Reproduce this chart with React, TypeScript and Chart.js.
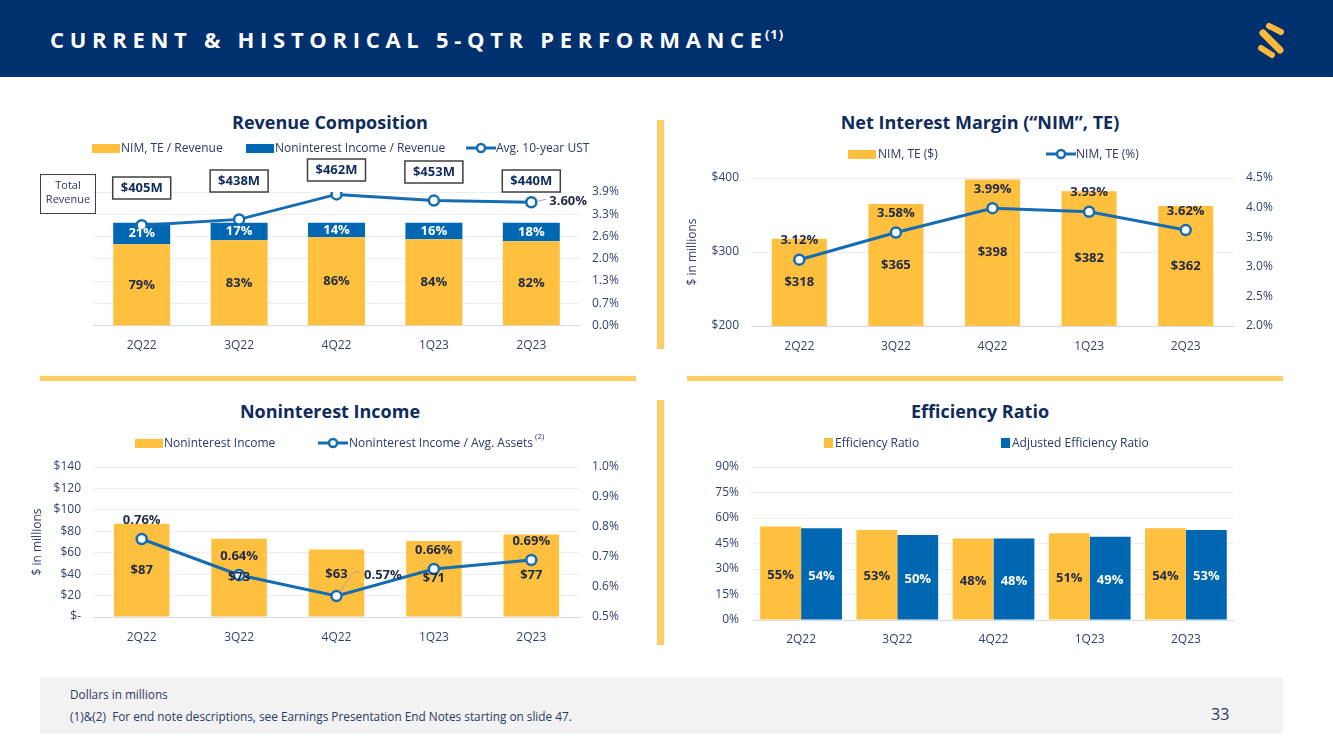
import React, { useEffect, useRef } from 'react';
import { Chart, registerables } from 'chart.js';

Chart.register(...registerables);

// ---- data ----
const quarters = ['2Q22', '3Q22', '4Q22', '1Q23', '2Q23'];

const nimShareOfRevenue = [79, 83, 86, 84, 82];
const noninterestShareOfRevenue = [21, 17, 14, 16, 18];
const avgTenYearUst = [2.93, 3.1, 3.83, 3.65, 3.6];
const totalRevenue = [405, 438, 462, 453, 440];
const ustTicks = [0, 0.65, 1.3, 1.95, 2.6, 3.25, 3.9];

const nimDollars = [318, 365, 398, 382, 362];
const nimPercent = [3.12, 3.58, 3.99, 3.93, 3.62];

const noninterestIncome = [87, 73, 63, 71, 77];
const noninterestToAssets = [0.76, 0.64, 0.57, 0.66, 0.69];

const efficiencyRatio = [55, 53, 48, 51, 54];
const adjustedEfficiencyRatio = [54, 50, 48, 49, 53];

// ---- styling ----
const FONT = "'Open Sans', 'Noto Sans', sans-serif";
const GOLD = '#FFBF3F';
const BLUE = '#0068B3';
const LINE_BLUE = '#146CB2';
const NAVY = '#0E2B5C';
const TICK = '#33436B';
const LEGEND_TEXT = '#2A3963';
const LABEL_DARK = '#1F2A44';
const GRID = '#EAEDF2';
const AXIS_LINE = '#D3DDEA';
const DIVIDER = '#FFCC66';

// vertical placement of the total revenue call-outs (canvas px)
const revenueBoxTop = [27, 20, 9, 11, 20];

Chart.defaults.font.family = FONT;

const tickFont = { family: FONT, size: 12 };
const fixWidth = (w: number) => (scale: any) => {
  scale.width = w;
};
const fixHeight = (h: number) => (scale: any) => {
  scale.height = h;
};

// Draws value labels for datasets that carry a `valueLabel` description
const valueLabels = {
  id: 'valueLabels',
  afterDatasetsDraw(chart: any) {
    const { ctx, chartArea } = chart;
    chart.data.datasets.forEach((ds: any, di: number) => {
      const cfg = ds.valueLabel;
      if (!cfg) return;
      const meta = chart.getDatasetMeta(di);
      meta.data.forEach((el: any, i: number) => {
        if (cfg.only && !cfg.only.includes(i)) return;
        const p = el.getProps(['x', 'y', 'base'], true);
        const x = p.x;
        let y = p.y;
        if (cfg.position === 'center') {
          const base = Math.min(p.base, chartArea.bottom);
          y = (p.y + base) / 2;
        }
        const c = (cfg.custom && cfg.custom[i]) || {};
        const dx = c.dx ?? cfg.dx ?? 0;
        const dy = c.dy ?? cfg.dy ?? 0;
        ctx.save();
        if (c.leader) {
          ctx.beginPath();
          ctx.strokeStyle = '#A6A6A6';
          ctx.lineWidth = 1;
          c.leader.forEach((pt: number[], k: number) => {
            if (k === 0) ctx.moveTo(x + pt[0], y + pt[1]);
            else ctx.lineTo(x + pt[0], y + pt[1]);
          });
          ctx.stroke();
        }
        ctx.font = `bold 13px ${FONT}`;
        ctx.fillStyle = cfg.color;
        ctx.textAlign = c.align || 'center';
        ctx.textBaseline = 'middle';
        ctx.fillText(cfg.format(ds.data[i]), x + dx, y + dy);
        ctx.restore();
      });
    });
  },
};

// Boxed total revenue figures above each quarter
const totalBoxes = {
  id: 'totalBoxes',
  afterDraw(chart: any, _args: any, opts: any) {
    const { ctx } = chart;
    const xScale = chart.scales.x;
    (opts.values || []).forEach((v: number, i: number) => {
      const cx = xScale.getPixelForValue(i);
      const top = opts.tops[i];
      const w = 58;
      const h = 22;
      ctx.save();
      ctx.fillStyle = '#FFFFFF';
      ctx.fillRect(cx - w / 2, top, w, h);
      ctx.strokeStyle = '#404040';
      ctx.lineWidth = 1.5;
      ctx.strokeRect(cx - w / 2, top, w, h);
      ctx.font = `bold 13px ${FONT}`;
      ctx.fillStyle = NAVY;
      ctx.textAlign = 'center';
      ctx.textBaseline = 'middle';
      ctx.fillText(`$${v}M`, cx, top + h / 2 + 0.5);
      ctx.restore();
    });
  },
};

const baseOptions = {
  responsive: false,
  maintainAspectRatio: false,
  animation: false,
  events: [],
};

const lineStyle = {
  type: 'line',
  borderColor: LINE_BLUE,
  borderWidth: 3,
  pointRadius: 5,
  pointBorderWidth: 2.5,
  pointBackgroundColor: '#FFFFFF',
  pointBorderColor: LINE_BLUE,
  order: 0,
};

const xAxis = (height: number, padding: number) => ({
  grid: { display: false, drawTicks: false },
  border: { display: true, color: AXIS_LINE, width: 1 },
  ticks: { color: TICK, font: tickFont, padding },
  afterFit: fixHeight(height),
});

const SERIES = {
  nimShare: 'NIM, TE / Revenue',
  nonintShare: 'Noninterest Income / Revenue',
  ust: 'Avg. 10-year UST',
  nimDollars: 'NIM, TE ($)',
  nimPct: 'NIM, TE (%)',
  nonint: 'Noninterest Income',
  nonintAssets: 'Noninterest Income / Avg. Assets',
  eff: 'Efficiency Ratio',
  adjEff: 'Adjusted Efficiency Ratio',
};

function revenueConfig(): any {
  return {
    type: 'bar',
    data: {
      labels: quarters,
      datasets: [
        {
          ...lineStyle,
          label: SERIES.ust,
          data: avgTenYearUst,
          yAxisID: 'y1',
          valueLabel: {
            format: (v: number) => `${v.toFixed(2)}%`,
            color: LABEL_DARK,
            only: [4],
            custom: { 4: { dx: 18, dy: -1, align: 'left', leader: [[6, -1], [15, -3]] } },
          },
        },
        {
          label: SERIES.nimShare,
          data: nimShareOfRevenue,
          backgroundColor: GOLD,
          stack: 'rev',
          order: 1,
          categoryPercentage: 1,
          barPercentage: 0.585,
          valueLabel: { format: (v: number) => `${v}%`, color: LABEL_DARK, position: 'center' },
        },
        {
          label: SERIES.nonintShare,
          data: noninterestShareOfRevenue,
          backgroundColor: BLUE,
          stack: 'rev',
          order: 1,
          categoryPercentage: 1,
          barPercentage: 0.585,
          valueLabel: { format: (v: number) => `${v}%`, color: '#FFFFFF', position: 'center' },
        },
      ],
    },
    options: {
      ...baseOptions,
      layout: { padding: { left: 53, top: 42, right: 0, bottom: 0 } },
      plugins: {
        legend: { display: false },
        tooltip: { enabled: false },
        totalBoxes: { values: totalRevenue, tops: revenueBoxTop },
      },
      scales: {
        x: { ...xAxis(34.5, 13), stacked: true },
        y: { display: false, stacked: true, min: 0, max: 130 },
        y1: {
          position: 'right',
          min: 0,
          max: 3.9,
          afterBuildTicks: (s: any) => {
            s.ticks = ustTicks.map((value) => ({ value }));
          },
          ticks: {
            color: TICK,
            font: tickFont,
            padding: 12,
            callback: (v: number) => `${(Math.round(v * 10) / 10).toFixed(1)}%`,
          },
          grid: { color: GRID, drawTicks: false },
          border: { display: false },
          afterFit: fixWidth(60),
        },
      },
    },
    plugins: [valueLabels, totalBoxes],
  };
}

function nimConfig(): any {
  return {
    type: 'bar',
    data: {
      labels: quarters,
      datasets: [
        {
          ...lineStyle,
          label: SERIES.nimPct,
          data: nimPercent,
          yAxisID: 'y1',
          valueLabel: { format: (v: number) => `${v.toFixed(2)}%`, color: LABEL_DARK, dy: -19 },
        },
        {
          label: SERIES.nimDollars,
          data: nimDollars,
          backgroundColor: GOLD,
          order: 1,
          categoryPercentage: 1,
          barPercentage: 0.57,
          valueLabel: { format: (v: number) => `$${v}`, color: LABEL_DARK, position: 'center' },
        },
      ],
    },
    options: {
      ...baseOptions,
      layout: { padding: { left: 0, top: 28, right: 0, bottom: 0 } },
      plugins: { legend: { display: false }, tooltip: { enabled: false } },
      scales: {
        x: xAxis(34, 13),
        y: {
          min: 200,
          max: 400,
          ticks: { stepSize: 100, color: TICK, font: tickFont, padding: 12, callback: (v: number) => `$${v}` },
          grid: { color: GRID, drawTicks: false },
          border: { display: false },
          title: { display: true, text: '$ in millions', color: TICK, font: tickFont, padding: { top: 5, bottom: 0 } },
          afterFit: fixWidth(71),
        },
        y1: {
          position: 'right',
          min: 2,
          max: 4.5,
          ticks: { stepSize: 0.5, color: TICK, font: tickFont, padding: 12, callback: (v: number) => `${v.toFixed(1)}%` },
          grid: { display: false, drawTicks: false },
          border: { display: false },
          afterFit: fixWidth(46),
        },
      },
    },
    plugins: [valueLabels],
  };
}

function noninterestConfig(): any {
  return {
    type: 'bar',
    data: {
      labels: quarters,
      datasets: [
        {
          ...lineStyle,
          label: SERIES.nonintAssets,
          data: noninterestToAssets,
          yAxisID: 'y1',
          valueLabel: {
            format: (v: number) => `${v.toFixed(2)}%`,
            color: LABEL_DARK,
            dy: -19,
            custom: {
              2: { dx: 27.5, dy: -21, align: 'left', leader: [[3, -4], [17.5, -24], [23.5, -24]] },
            },
          },
        },
        {
          label: SERIES.nonint,
          data: noninterestIncome,
          backgroundColor: GOLD,
          order: 1,
          categoryPercentage: 1,
          barPercentage: 0.57,
          valueLabel: {
            format: (v: number) => `$${v}`,
            color: LABEL_DARK,
            position: 'center',
            custom: { 2: { dy: -9 } },
          },
        },
      ],
    },
    options: {
      ...baseOptions,
      layout: { padding: { left: 0, top: 27, right: 0, bottom: 0 } },
      plugins: { legend: { display: false }, tooltip: { enabled: false } },
      scales: {
        x: xAxis(33, 13),
        y: {
          min: 0,
          max: 140,
          ticks: {
            stepSize: 20,
            color: TICK,
            font: tickFont,
            padding: 12,
            callback: (v: number) => (v === 0 ? '$-' : `$${v}`),
          },
          grid: { color: GRID, drawTicks: false },
          border: { display: false },
          title: { display: true, text: '$ in millions', color: TICK, font: tickFont, padding: { top: 5, bottom: 0 } },
          afterFit: fixWidth(68),
        },
        y1: {
          position: 'right',
          min: 0.5,
          max: 1.0,
          ticks: { stepSize: 0.1, color: TICK, font: tickFont, padding: 12, callback: (v: number) => `${v.toFixed(1)}%` },
          grid: { display: false, drawTicks: false },
          border: { display: false },
          afterFit: fixWidth(60),
        },
      },
    },
    plugins: [valueLabels],
  };
}

function efficiencyConfig(): any {
  return {
    type: 'bar',
    data: {
      labels: quarters,
      datasets: [
        {
          label: SERIES.eff,
          data: efficiencyRatio,
          backgroundColor: GOLD,
          categoryPercentage: 0.85,
          barPercentage: 1,
          valueLabel: { format: (v: number) => `${v}%`, color: LABEL_DARK, position: 'center', dy: 2 },
        },
        {
          label: SERIES.adjEff,
          data: adjustedEfficiencyRatio,
          backgroundColor: BLUE,
          categoryPercentage: 0.85,
          barPercentage: 1,
          valueLabel: { format: (v: number) => `${v}%`, color: '#FFFFFF', position: 'center', dy: 2 },
        },
      ],
    },
    options: {
      ...baseOptions,
      layout: { padding: { left: 0, top: 27, right: 46, bottom: 0 } },
      plugins: { legend: { display: false }, tooltip: { enabled: false } },
      scales: {
        x: xAxis(30, 12),
        y: {
          min: 0,
          max: 90,
          ticks: { stepSize: 15, color: TICK, font: tickFont, padding: 14, callback: (v: number) => `${v}%` },
          grid: { color: GRID, drawTicks: false },
          border: { display: false },
          afterFit: fixWidth(73),
        },
      },
    },
    plugins: [valueLabels],
  };
}

function ChartCanvas({ left, top, width, height, build }: any) {
  const ref = useRef<HTMLCanvasElement | null>(null);
  useEffect(() => {
    if (!ref.current) return;
    const chart = new Chart(ref.current, build());
    return () => chart.destroy();
  }, []);
  return (
    <canvas
      ref={ref}
      width={width}
      height={height}
      style={{ position: 'absolute', left, top, width, height }}
    />
  );
}

type LegendItem = { label: string; kind: 'rect' | 'square' | 'line'; color: string; x: number; textX: number; sup?: string };

function Legend({ y, items }: { y: number; items: LegendItem[] }) {
  return (
    <>
      {items.map((it) => (
        <React.Fragment key={it.label}>
          {it.kind === 'line' ? (
            <svg style={{ position: 'absolute', left: it.x, top: y - 6 }} width={30} height={12}>
              <line x1={0} y1={6} x2={30} y2={6} stroke={it.color} strokeWidth={3} />
              <circle cx={15} cy={6} r={4} fill="#FFFFFF" stroke={it.color} strokeWidth={2.5} />
            </svg>
          ) : (
            <div
              style={{
                position: 'absolute',
                left: it.x,
                top: y - (it.kind === 'rect' ? 4.5 : 5),
                width: it.kind === 'rect' ? 28 : 9,
                height: it.kind === 'rect' ? 9 : 10,
                background: it.color,
              }}
            />
          )}
          <div
            style={{
              position: 'absolute',
              left: it.textX,
              top: y - 9,
              height: 18,
              lineHeight: '18px',
              font: `12px ${FONT}`,
              color: LEGEND_TEXT,
              whiteSpace: 'nowrap',
            }}
          >
            {it.label}
            {it.sup && (
              <span style={{ fontSize: 8, position: 'relative', top: -8, marginLeft: 2 }}>{it.sup}</span>
            )}
          </div>
        </React.Fragment>
      ))}
    </>
  );
}

function PanelTitle({ text, cx, cy }: { text: string; cx: number; cy: number }) {
  return (
    <div
      style={{
        position: 'absolute',
        left: cx - 250,
        width: 500,
        top: cy - 13,
        height: 26,
        lineHeight: '26px',
        textAlign: 'center',
        font: `bold 18px ${FONT}`,
        color: NAVY,
      }}
    >
      {text}
    </div>
  );
}

function Logo() {
  return (
    <svg style={{ position: 'absolute', left: 1252, top: 18 }} width={40} height={44}>
      <g stroke="#FDB93A" strokeLinecap="round" fill="none">
        <line x1={17} y1={8} x2={29} y2={14} strokeWidth={6} />
        <line x1={11} y1={15} x2={28} y2={32} strokeWidth={7} />
        <line x1={9} y1={30} x2={20} y2={37} strokeWidth={6} />
      </g>
    </svg>
  );
}

export default function App() {
  return (
    <div
      style={{
        position: 'absolute',
        left: 0,
        top: 0,
        width: 1333,
        height: 749,
        overflow: 'hidden',
        background: '#FFFFFF',
        fontFamily: FONT,
      }}
    >
      {/* header band */}
      <div style={{ position: 'absolute', left: 0, top: 0, width: 1333, height: 77, background: '#00306E' }} />
      <div
        style={{
          position: 'absolute',
          left: 50,
          top: 24,
          height: 34,
          lineHeight: '34px',
          font: `bold 22px ${FONT}`,
          letterSpacing: '5.7px',
          color: '#FFFFFF',
          whiteSpace: 'nowrap',
        }}
      >
        CURRENT &amp; HISTORICAL 5-QTR PERFORMANCE
        <span style={{ fontSize: 13, letterSpacing: '1px', position: 'relative', top: -9, marginLeft: -3 }}>(1)</span>
      </div>
      <Logo />

      {/* dividers */}
      <div style={{ position: 'absolute', left: 657, top: 120, width: 7, height: 229, background: DIVIDER }} />
      <div style={{ position: 'absolute', left: 657, top: 400, width: 7, height: 245, background: DIVIDER }} />
      <div style={{ position: 'absolute', left: 40, top: 376, width: 596, height: 5, background: DIVIDER }} />
      <div style={{ position: 'absolute', left: 687, top: 376, width: 596, height: 5, background: DIVIDER }} />

      {/* panel titles */}
      <PanelTitle text="Revenue Composition" cx={330} cy={123} />
      <PanelTitle text="Net Interest Margin (“NIM”, TE)" cx={980} cy={123} />
      <PanelTitle text="Noninterest Income" cx={330} cy={412} />
      <PanelTitle text="Efficiency Ratio" cx={980} cy={412} />

      {/* charts */}
      <ChartCanvas left={40} top={150} width={600} height={210} build={revenueConfig} />
      <ChartCanvas left={680} top={150} width={600} height={210} build={nimConfig} />
      <ChartCanvas left={25} top={440} width={615} height={210} build={noninterestConfig} />
      <ChartCanvas left={680} top={440} width={600} height={210} build={efficiencyConfig} />

      {/* legends */}
      <Legend
        y={148}
        items={[
          { label: SERIES.nimShare, kind: 'rect', color: GOLD, x: 92, textX: 121 },
          { label: SERIES.nonintShare, kind: 'rect', color: BLUE, x: 246, textX: 275 },
          { label: SERIES.ust, kind: 'line', color: LINE_BLUE, x: 466, textX: 496 },
        ]}
      />
      <Legend
        y={154}
        items={[
          { label: SERIES.nimDollars, kind: 'rect', color: GOLD, x: 848, textX: 878 },
          { label: SERIES.nimPct, kind: 'line', color: LINE_BLUE, x: 1046, textX: 1076 },
        ]}
      />
      <Legend
        y={443}
        items={[
          { label: SERIES.nonint, kind: 'rect', color: GOLD, x: 135, textX: 164 },
          { label: SERIES.nonintAssets, kind: 'line', color: LINE_BLUE, x: 318, textX: 349, sup: '(2)' },
        ]}
      />
      <Legend
        y={443}
        items={[
          { label: SERIES.eff, kind: 'square', color: GOLD, x: 824, textX: 835 },
          { label: SERIES.adjEff, kind: 'square', color: BLUE, x: 1001, textX: 1012 },
        ]}
      />

      {/* total revenue caption */}
      <div
        style={{
          position: 'absolute',
          left: 40,
          top: 174,
          width: 54,
          height: 35,
          border: '1.5px solid #404040',
          font: `11px ${FONT}`,
          lineHeight: '14px',
          color: LEGEND_TEXT,
          textAlign: 'center',
          paddingTop: 3,
        }}
      >
        Total
        <br />
        Revenue
      </div>

      {/* footer */}
      <div style={{ position: 'absolute', left: 40, top: 677, width: 1243, height: 57, background: '#F2F2F2' }} />
      <div style={{ position: 'absolute', left: 70, top: 686, font: `11.8px ${FONT}`, lineHeight: '16px', color: LEGEND_TEXT, whiteSpace: 'nowrap' }}>
        Dollars in millions
      </div>
      <div style={{ position: 'absolute', left: 70, top: 708, font: `11.8px ${FONT}`, lineHeight: '16px', color: LEGEND_TEXT, whiteSpace: 'pre' }}>
        {'(1)&(2)  For end note descriptions, see Earnings Presentation End Notes starting on slide 47.'}
      </div>
      <div style={{ position: 'absolute', left: 1211, top: 703, font: `16px ${FONT}`, lineHeight: '22px', color: LEGEND_TEXT }}>33</div>
    </div>
  );
}
